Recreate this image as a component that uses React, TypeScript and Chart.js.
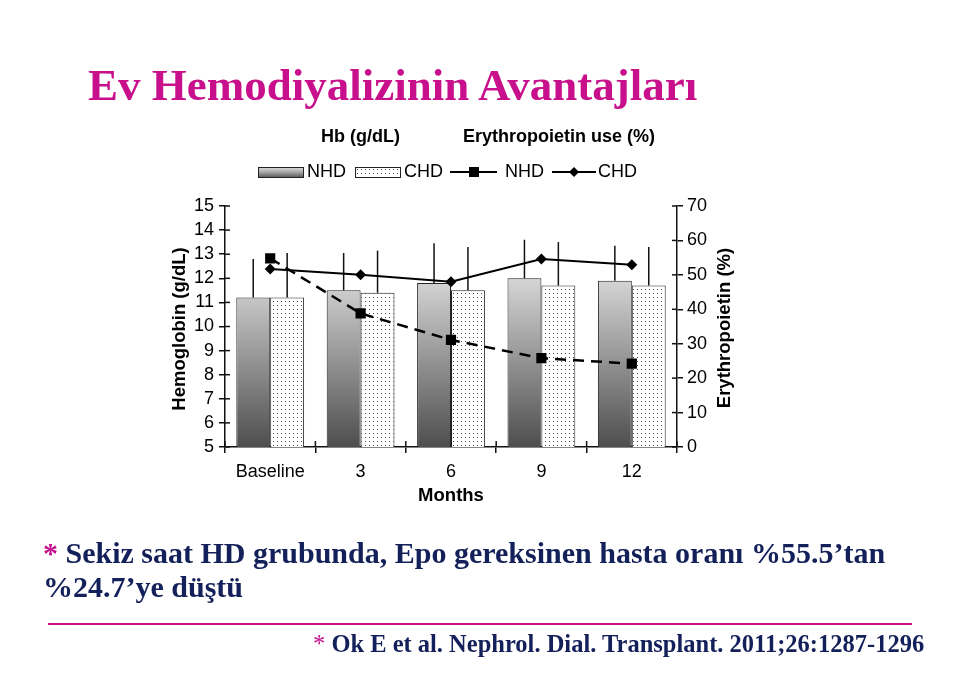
import React, { useEffect, useRef } from 'react';
import { Chart, registerables } from 'chart.js';

Chart.register(...registerables);

// ---- data ----
const categories = ['Baseline', '3', '6', '9', '12'];
const hbNHD = [11.2, 11.5, 11.8, 12.0, 11.9];
const hbCHD = [11.2, 11.4, 11.5, 11.7, 11.7];
const hbNHDErr = [1.6, 1.55, 1.65, 1.6, 1.45];
const hbCHDErr = [1.85, 1.75, 1.8, 1.8, 1.6];
const epoNHD = [54.8, 38.8, 31.1, 25.8, 24.2];
const epoCHD = [51.7, 50.0, 48.0, 54.6, 52.9];
const hbRange = [5, 15];
const epoRange = [0, 70];

const SANS = '"Liberation Sans", Arial, sans-serif';
const MAGENTA = '#c8108c';
const NAVY = '#13205a';

function makeDotPattern(ctx: CanvasRenderingContext2D) {
  const pc = document.createElement('canvas');
  pc.width = 4;
  pc.height = 4;
  const p = pc.getContext('2d')!;
  p.fillStyle = '#ffffff';
  p.fillRect(0, 0, 4, 4);
  p.fillStyle = '#4a4a4a';
  p.fillRect(1, 1, 1, 1);
  return ctx.createPattern(pc, 'repeat')!;
}

function barGradient(ctx: CanvasRenderingContext2D, top: number, bottom: number) {
  const g = ctx.createLinearGradient(0, top, 0, bottom);
  g.addColorStop(0, '#f0f0f0');
  g.addColorStop(0.32, '#d2d2d2');
  g.addColorStop(1, '#4e4e4e');
  return g;
}

const errorBarsPlugin = {
  id: 'errorBars',
  afterDatasetDraw(chart: any, args: any) {
    const errs = [hbNHDErr, hbCHDErr][args.index];
    if (!errs) return;
    const ds = chart.data.datasets[args.index];
    const ys = chart.scales.y;
    const ctx = chart.ctx;
    ctx.save();
    ctx.strokeStyle = '#111';
    ctx.lineWidth = 1.5;
    args.meta.data.forEach((bar: any, i: number) => {
      const top = ys.getPixelForValue(ds.data[i] + errs[i]);
      ctx.beginPath();
      ctx.moveTo(bar.x, bar.y);
      ctx.lineTo(bar.x, top);
      ctx.stroke();
    });
    ctx.restore();
  },
};

const decorPlugin = {
  id: 'decor',
  afterDraw(chart: any) {
    const ctx: CanvasRenderingContext2D = chart.ctx;
    const { x: xs, y: ys, y2 } = chart.scales;
    ctx.save();
    // inner halves of tick marks
    ctx.strokeStyle = '#111';
    ctx.lineWidth = 1.5;
    ys.ticks.forEach((_t: any, i: number) => {
      const py = ys.getPixelForTick(i);
      ctx.beginPath();
      ctx.moveTo(ys.right, py);
      ctx.lineTo(ys.right + 5, py);
      ctx.stroke();
    });
    y2.ticks.forEach((_t: any, i: number) => {
      const py = y2.getPixelForTick(i);
      ctx.beginPath();
      ctx.moveTo(y2.left - 5, py);
      ctx.lineTo(y2.left, py);
      ctx.stroke();
    });
    const n = categories.length;
    for (let i = 0; i <= n; i++) {
      const px = xs.left + (i * xs.width) / n;
      ctx.beginPath();
      ctx.moveTo(px, xs.top - 6);
      ctx.lineTo(px, xs.top);
      ctx.stroke();
    }

    // axis titles
    ctx.fillStyle = '#000';
    ctx.font = `bold 18.5px ${SANS}`;
    ctx.textAlign = 'center';
    ctx.textBaseline = 'middle';
    ctx.save();
    ctx.translate(180, 329);
    ctx.rotate(-Math.PI / 2);
    ctx.fillText('Hemoglobin (g/dL)', 0, 0);
    ctx.restore();
    ctx.save();
    ctx.translate(725, 328);
    ctx.rotate(-Math.PI / 2);
    ctx.fillText('Erythropoietin (%)', 0, 0);
    ctx.restore();
    ctx.fillText('Months', 451, 496);

    // legend
    ctx.font = `bold 18px ${SANS}`;
    ctx.textAlign = 'left';
    ctx.fillText('Hb (g/dL)', 321, 137);
    ctx.fillText('Erythropoietin use (%)', 463, 137);

    const ly = 172;
    ctx.font = `18px ${SANS}`;
    // NHD bar swatch
    ctx.fillStyle = (() => {
      const g = ctx.createLinearGradient(0, ly - 5, 0, ly + 5);
      g.addColorStop(0, '#e0e0e0');
      g.addColorStop(0.5, '#a8a8a8');
      g.addColorStop(1, '#606060');
      return g;
    })();
    ctx.fillRect(258, ly - 5, 45, 10);
    ctx.strokeStyle = '#222';
    ctx.lineWidth = 1;
    ctx.strokeRect(258.5, ly - 4.5, 45, 10);
    ctx.fillStyle = '#000';
    ctx.fillText('NHD', 307, ly);
    // CHD bar swatch
    ctx.fillStyle = makeDotPattern(ctx);
    ctx.fillRect(355, ly - 5, 45, 10);
    ctx.strokeRect(355.5, ly - 4.5, 45, 10);
    ctx.fillStyle = '#000';
    ctx.fillText('CHD', 404, ly);
    // NHD epo line
    ctx.lineWidth = 2;
    ctx.strokeStyle = '#000';
    ctx.beginPath();
    ctx.moveTo(450, ly);
    ctx.lineTo(497, ly);
    ctx.stroke();
    ctx.fillRect(469, ly - 5, 10, 10);
    ctx.fillText('NHD', 505, ly);
    // CHD epo line
    ctx.beginPath();
    ctx.moveTo(552, ly);
    ctx.lineTo(596, ly);
    ctx.stroke();
    ctx.beginPath();
    ctx.moveTo(574 - 5, ly);
    ctx.lineTo(574, ly - 5);
    ctx.lineTo(574 + 5, ly);
    ctx.lineTo(574, ly + 5);
    ctx.closePath();
    ctx.fill();
    ctx.fillText('CHD', 598, ly);
    ctx.restore();
  },
};

export default function App() {
  const ref = useRef<HTMLCanvasElement>(null);

  useEffect(() => {
    const canvas = ref.current!;
    const ctx = canvas.getContext('2d')!;
    const dots = makeDotPattern(ctx);
    const tickFont = { family: SANS, size: 18 };

    const chart = new Chart(ctx, {
      type: 'bar',
      data: {
        labels: categories,
        datasets: [
          {
            type: 'bar',
            label: 'Hb NHD',
            data: hbNHD,
            yAxisID: 'y',
            order: 2,
            backgroundColor: (c: any) => {
              const ca = c.chart.chartArea;
              if (!ca) return '#999';
              return barGradient(c.chart.ctx, ca.top, ca.bottom);
            },
            borderColor: '#222',
            borderWidth: 1,
            borderSkipped: false,
            categoryPercentage: 0.75,
            barPercentage: 1.0,
          },
          {
            type: 'bar',
            label: 'Hb CHD',
            data: hbCHD,
            yAxisID: 'y',
            order: 2,
            backgroundColor: dots,
            borderColor: '#222',
            borderWidth: 1,
            borderSkipped: false,
            categoryPercentage: 0.75,
            barPercentage: 1.0,
          },
          {
            type: 'line',
            label: 'Epo NHD',
            data: epoNHD,
            yAxisID: 'y2',
            order: 0,
            borderColor: '#000',
            borderWidth: 2.5,
            borderDash: [11, 7],
            pointStyle: 'rect',
            pointRadius: 7.2,
            pointBackgroundColor: '#000',
            pointBorderColor: '#000',
            pointBorderWidth: 0,
            tension: 0,
            fill: false,
          },
          {
            type: 'line',
            label: 'Epo CHD',
            data: epoCHD,
            yAxisID: 'y2',
            order: 0,
            borderColor: '#000',
            borderWidth: 2,
            pointStyle: 'rectRot',
            pointRadius: 5.5,
            pointBackgroundColor: '#000',
            pointBorderColor: '#000',
            pointBorderWidth: 0,
            tension: 0,
            fill: false,
          },
        ],
      },
      options: {
        responsive: false,
        animation: false,
        devicePixelRatio: 1,
        layout: { padding: { top: 206, left: 0, right: 0, bottom: 0 } },
        plugins: {
          legend: { display: false },
          tooltip: { enabled: false },
          title: { display: false },
        },
        scales: {
          x: {
            type: 'category',
            offset: true,
            grid: {
              offset: true,
              drawOnChartArea: false,
              drawTicks: true,
              tickLength: 6,
              color: '#111',
              lineWidth: 1.5,
            },
            border: { display: true, color: '#111', width: 1.5 },
            ticks: { font: tickFont, color: '#000', padding: 8, maxRotation: 0, autoSkip: false },
            afterFit: (s: any) => {
              s.height = 247;
            },
          },
          y: {
            type: 'linear',
            position: 'left',
            min: hbRange[0],
            max: hbRange[1],
            ticks: { stepSize: 1, font: tickFont, color: '#000', padding: 5, autoSkip: false },
            grid: { drawOnChartArea: false, tickLength: 6, color: '#111', lineWidth: 1.5 },
            border: { display: true, color: '#111', width: 1.5 },
            afterFit: (s: any) => {
              s.width = 225;
            },
          },
          y2: {
            type: 'linear',
            position: 'right',
            min: epoRange[0],
            max: epoRange[1],
            ticks: { stepSize: 10, font: tickFont, color: '#000', padding: 4, autoSkip: false },
            grid: { drawOnChartArea: false, tickLength: 6, color: '#111', lineWidth: 1.5 },
            border: { display: true, color: '#111', width: 1.5 },
            afterFit: (s: any) => {
              s.width = 283;
            },
          },
        },
      },
      plugins: [errorBarsPlugin, decorPlugin],
    } as any);

    return () => chart.destroy();
  }, []);

  return (
    <div
      style={{
        position: 'absolute',
        left: 0,
        top: 0,
        width: 960,
        height: 694,
        background: '#ffffff',
        overflow: 'hidden',
      }}
    >
      <canvas ref={ref} width={960} height={694} style={{ position: 'absolute', left: 0, top: 0 }} />
      <div
        style={{
          position: 'absolute',
          left: 88,
          top: 63,
          fontFamily: '"Liberation Serif", "Times New Roman", serif',
          fontWeight: 'bold',
          fontSize: 45,
          lineHeight: '45px',
          color: MAGENTA,
          whiteSpace: 'nowrap',
        }}
      >
        Ev Hemodiyalizinin Avantajları
      </div>
      <div
        style={{
          position: 'absolute',
          left: 43,
          top: 536,
          fontFamily: '"Liberation Serif", "Times New Roman", serif',
          fontWeight: 'bold',
          fontSize: 30,
          lineHeight: '34px',
          color: NAVY,
          whiteSpace: 'nowrap',
        }}
      >
        <span style={{ color: MAGENTA }}>*</span> Sekiz saat HD grubunda, Epo gereksinen hasta oranı %55.5’tan
        <br />
        %24.7’ye düştü
      </div>
      <div
        style={{
          position: 'absolute',
          left: 48,
          top: 623,
          width: 864,
          height: 2,
          background: MAGENTA,
        }}
      />
      <div
        style={{
          position: 'absolute',
          left: 313,
          top: 632,
          fontFamily: '"Liberation Serif", "Times New Roman", serif',
          fontWeight: 'bold',
          fontSize: 24.5,
          lineHeight: '24px',
          color: NAVY,
          whiteSpace: 'nowrap',
        }}
      >
        <span style={{ color: MAGENTA, fontWeight: 'normal' }}>*</span> Ok E et al. Nephrol. Dial. Transplant. 2011;26:1287-1296
      </div>
    </div>
  );
}
